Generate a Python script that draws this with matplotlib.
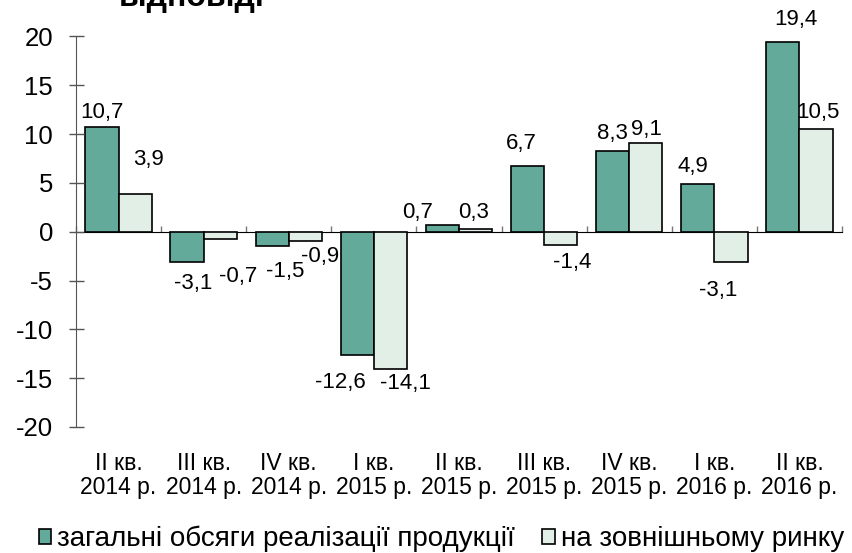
import numpy as np
import matplotlib
matplotlib.use("Agg")
from matplotlib import pyplot as plt

# категорії (квартали)
quarters = ["II кв.\n2014 р.", "III кв.\n2014 р.", "IV кв.\n2014 р.", "I кв.\n2015 р.",
            "II кв.\n2015 р.", "III кв.\n2015 р.", "IV кв.\n2015 р.", "I кв.\n2016 р.",
            "II кв.\n2016 р."]
# загальні обсяги реалізації продукції
total = [10.7, -3.1, -1.5, -12.6, 0.7, 6.7, 8.3, 4.9, 19.4]
# на зовнішньому ринку
external = [3.9, -0.7, -0.9, -14.1, 0.3, -1.4, 9.1, -3.1, 10.5]
series_names = ["загальні обсяги реалізації продукції", "на зовнішньому ринку"]

# зсуви підписів (пікселі) відносно кінця стовпця
off_total = [(0, 15), (6, -21), (13, -25), (-17, -28), (-25, 12), (-6, 23), (0, 17), (-5, 17), (13, 23)]
off_ext = [(13, 34), (18, -38), (15, -16), (15, -14), (-2, 16), (11, -17), (1, 13), (-13, -28), (2, 17)]

plt.rcParams['font.family'] = ['Liberation Sans', 'DejaVu Sans']
plt.rcParams['axes.unicode_minus'] = False

fig = plt.figure(figsize=(8.52, 5.53), dpi=100)
ax = fig.add_axes([76 / 852, 1 - 427 / 553, (842 - 76) / 852, (427 - 36.5) / 553])

x = np.arange(len(quarters))
w = 0.39
c1 = "#64aa9b"
c2 = "#e2efe6"
b1 = ax.bar(x - w / 2, total, w, color=c1, edgecolor="black", linewidth=1.2, label=series_names[0])
b2 = ax.bar(x + w / 2, external, w, color=c2, edgecolor="black", linewidth=1.2, label=series_names[1])

for bars, vals, offs in [(b1, total, off_total), (b2, external, off_ext)]:
    for r, v, (dx, dy) in zip(bars, vals, offs):
        ax.annotate(f"{v:.1f}".replace(".", ","), (r.get_x() + r.get_width() / 2, v),
                    xytext=(dx, dy), textcoords="offset pixels",
                    ha="center", va="center", fontsize=16)

ax.set_xlim(-0.5, len(quarters) - 0.5)
ax.set_ylim(-20, 20)
ax.set_yticks(np.arange(-20, 21, 5))
ax.tick_params(axis="y", direction="inout", length=10.8, width=1, color="#555555",
               labelsize=18.5, pad=11)
ax.set_xticks(x)
ax.set_xticklabels(quarters, fontsize=16.5, linespacing=1.05)
ax.tick_params(axis="x", length=0, pad=18)

for s in ["top", "right", "bottom"]:
    ax.spines[s].set_visible(False)
ax.spines["left"].set_color("#555555")

# лінія нуля з поділками між категоріями
zero = ax.secondary_xaxis(0.5)
zero.set_xticks(np.arange(len(quarters) + 1) - 0.5)
zero.set_xticklabels([])
zero.tick_params(direction="out", length=4, color="#777777", width=1)
zero.spines["bottom"].set_color("#333333")

fig.text(192 / 852, 1 - 6 / 553, "відповіді", fontsize=23, fontweight="bold",
         ha="center", va="baseline")

fig.legend(loc="center", bbox_to_anchor=(0.518, 1 - 539 / 553), ncol=2, frameon=False,
           fontsize=20, handlelength=0.45, handleheight=0.45, handletextpad=0.2,
           columnspacing=1.0)

fig.savefig("out.png", dpi=100)
